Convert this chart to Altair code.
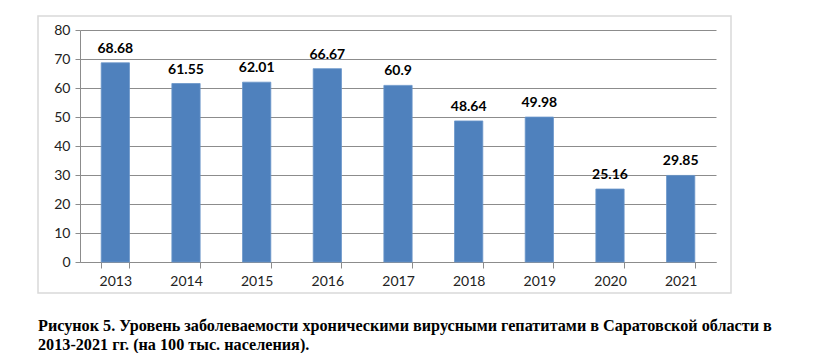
import altair as alt
import pandas as pd

years = ["2013", "2014", "2015", "2016", "2017", "2018", "2019", "2020", "2021"]
values = [68.68, 61.55, 62.01, 66.67, 60.9, 48.64, 49.98, 25.16, 29.85]
labels = ["68.68", "61.55", "62.01", "66.67", "60.9", "48.64", "49.98", "25.16", "29.85"]
y_ticks = [0, 10, 20, 30, 40, 50, 60, 70, 80]
caption = [
    "Рисунок 5. Уровень заболеваемости хроническими вирусными гепатитами в Саратовской области в",
    "2013-2021 гг. (на 100 тыс. населения).",
]

df = pd.DataFrame({"year": years, "value": values, "label": labels})

x = alt.X("year:N", sort=years, title=None,
          scale=alt.Scale(paddingInner=0.6, paddingOuter=0.3),
          axis=alt.Axis(labelAngle=0, tickBand="extent", domainColor="#8c8c8c",
                        tickColor="#8c8c8c", tickSize=6, labelPadding=6))
y = alt.Y("value:Q", title=None,
          scale=alt.Scale(domain=[0, 80], nice=False),
          axis=alt.Axis(values=y_ticks, gridColor="#8c8c8c", labelOverlap=False,
                        domainColor="#8c8c8c", tickColor="#8c8c8c", tickSize=5,
                        labelPadding=5))

border = alt.Chart(pd.DataFrame({"a": [0]})).mark_rect(
    fill="transparent", stroke="#d9d9d9", strokeWidth=1.5, clip=False
).encode(x=alt.value(-42), x2=alt.value(651), y=alt.value(-14), y2=alt.value(263))

bars = alt.Chart(df).mark_bar(color="#4f81bd", stroke="#6a95c9", strokeWidth=0.8).encode(x=x, y=y)
text = alt.Chart(df).mark_text(
    baseline="bottom", dy=-7, font="Lato", fontWeight="bold", fontSize=14, color="#000000"
).encode(x=x, y=y, text="label:N")

chart = alt.layer(border, bars, text).properties(
    width=636, height=232,
    autosize=alt.AutoSizeParams(type="none"),
    padding={"left": 72, "top": 22, "right": 102, "bottom": 91},
    title=alt.TitleParams(
        text=caption, orient="bottom", anchor="start", frame="group", dx=-42,
        offset=24, font="Liberation Serif", fontSize=16.2, fontWeight="bold",
        color="#000000", lineHeight=19,
    ),
).configure_view(stroke=None).configure_axis(
    labelFont="Lato", labelFontSize=14, labelColor="#222222", grid=True
).configure_axisX(grid=False)

chart.save("out.html", embed_options={"renderer": "svg", "actions": False})
